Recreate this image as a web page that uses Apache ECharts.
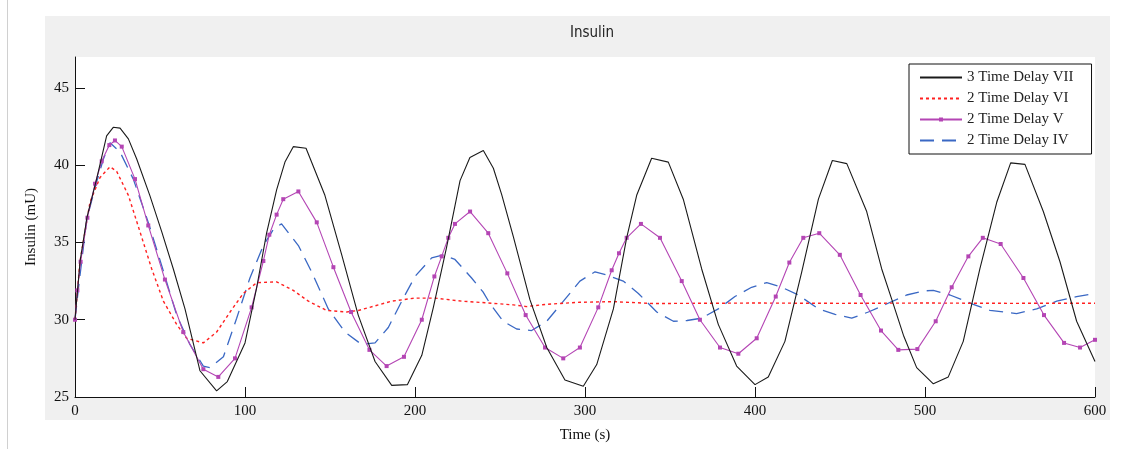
<!DOCTYPE html>
<html>
<head>
<meta charset="utf-8">
<script src="https://cdn.jsdelivr.net/npm/echarts@6/dist/echarts.min.js"></script>
<style>
  html, body { margin: 0; padding: 0; background: #fff; }
  #chart { width: 1123px; height: 449px; }
</style>
</head>
<body>
<div id="chart"></div>
<script>
// series names (legend order)
const seriesNames = ['3 Time Delay VII', '2 Time Delay VI', '2 Time Delay V', '2 Time Delay IV']

// 3 Time Delay VII (black)
const tVII = [0, 3, 7, 12.7, 18.6, 22.5, 26.5, 31.4, 36.3, 44, 51, 57.8, 64.7, 73.5, 83.3, 89.6, 100, 106.9, 112.7, 118.6,
  123.5, 128.4, 135.9, 147, 156.9, 166.6, 176.5, 186.3, 195.5, 204, 210.8, 218.6, 226.5, 232.3, 240.2, 246.1, 251, 257.8, 267.6, 277.5,
  288.2, 299, 306.9, 316.7, 324.5, 330.4, 339.2, 349, 357.8, 368.6, 378.4, 389.2, 400, 407.8, 417.6, 427.5, 437.3, 445.5, 454, 465.7,
  474.5, 480.5, 487.3, 495.1, 504.9, 513.7, 522.5, 532.3, 542.2, 550.4, 558.8, 569.6, 579.4, 589.2, 600]
const vVII = [30, 33.8, 36.6, 39.1, 41.9, 42.45, 42.4, 41.7, 40.4, 38.05, 35.7, 33.3, 30.7, 26.7, 25.4, 26.0, 28.5, 32.1, 35.6, 38.4,
  40.2, 41.2, 41.1, 38.05, 34.2, 30.3, 27.3, 25.75, 25.8, 27.7, 30.8, 34.7, 39.0, 40.5, 40.95, 39.8, 38.1, 35.4, 31.3, 28.2,
  26.1, 25.7, 27.1, 30.7, 35.3, 38.05, 40.45, 40.2, 37.8, 33.3, 29.7, 27.0, 25.8, 26.3, 28.6, 33.1, 37.8, 40.3, 40.1, 37.0,
  33.3, 31.3, 29.0, 26.9, 25.85, 26.3, 28.6, 33.3, 37.6, 40.15, 40.05, 37.0, 33.75, 29.9, 27.3]

// 2 Time Delay VI (red dotted)
const tVI = [0, 2.9, 8.8, 14.7, 20.6, 24.5, 31.4, 38.2, 45.1, 52, 59.8, 65.7, 75.5, 83.3, 91.2, 99, 106.9, 118.6, 128.4, 137.3,
  148, 159.8, 166.7, 176.5, 186.3, 200, 211.8, 227.5, 241.2, 257.8, 265.5, 277.5, 297, 316.7, 340, 361.8, 400, 450, 500, 550, 600]
const vVI = [30, 33.75, 37.6, 39.2, 39.9, 39.6, 38.05, 35.7, 33.3, 31.2, 29.7, 28.8, 28.5, 29.2, 30.5, 31.7, 32.4, 32.45, 31.9, 31.2,
  30.6, 30.5, 30.6, 30.9, 31.2, 31.4, 31.4, 31.2, 31.1, 30.96, 30.85, 31.0, 31.13, 31.17, 31.05, 31.06, 31.08, 31.06, 31.08, 31.06, 31.07]

// 2 Time Delay V (magenta with markers)
const tV = [0, 1.4, 3.3, 7.3, 11.8, 15.7, 20.2, 23.5, 27.5, 35.3, 43.1, 52.9, 63.7, 75.5, 84.3, 94.1, 103.9, 110.8, 114.3, 118.6,
  122.5, 131.4, 142.2, 152, 162.4, 173.2, 183.3, 193.5, 204, 211.4, 215.7, 219.6, 223.5, 232.4, 243.1, 254.3, 265.1, 276.5, 287.2, 297,
  307.8, 315.7, 320, 324.5, 332.9, 344.1, 356.9, 367.6, 379.4, 390.2, 401, 412.2, 420.2, 428.4, 437.8, 449.9, 462.1, 474.1, 484.3, 495.5,
  506.3, 515.7, 525.5, 534, 544.5, 557.9, 570, 581.8, 591.2, 600]
const vV = [30, 31.9, 33.75, 36.6, 38.8, 40.25, 41.3, 41.6, 41.2, 39.1, 36.1, 32.6, 29.2, 26.8, 26.3, 27.5, 30.8, 33.8, 35.5, 36.8,
  37.8, 38.3, 36.3, 33.4, 30.5, 28.05, 27.0, 27.6, 30.0, 32.8, 34.1, 35.3, 36.2, 37.0, 35.6, 33.0, 30.3, 28.2, 27.5, 28.2,
  30.8, 33.2, 34.3, 35.3, 36.2, 35.3, 32.5, 30.0, 28.2, 27.8, 28.8, 31.5, 33.7, 35.3, 35.6, 34.2, 31.6, 29.3, 28.05, 28.1,
  29.9, 32.1, 34.1, 35.3, 34.9, 32.7, 30.3, 28.5, 28.2, 28.7]

// 2 Time Delay IV (blue dashed)
const tIV = [0, 2, 6.9, 12.7, 16.7, 20.6, 26.5, 34.3, 43.1, 51, 59.8, 67.6, 75.5, 79.4, 87.3, 95.1, 102.9, 110.8, 117, 121.5,
  131.4, 139.2, 149, 158.8, 168.6, 176.5, 184.3, 192.2, 200, 209.8, 216.7, 223.5, 233.3, 240, 244, 251.9, 259.8, 268.6, 277.5, 287.3,
  297, 305.9, 312.7, 322.5, 331.4, 342.2, 352, 360, 368.6, 378.4, 388.2, 398, 406.9, 415.7, 425.5, 437.3, 447.1, 456.9, 466.7, 477,
  489.2, 499, 504.9, 514.7, 528.4, 538.2, 553.9, 565.7, 577.5, 589.2, 600]
const vIV = [30, 32, 36.5, 38.9, 40.4, 41.45, 40.85, 39.1, 36.3, 33.5, 30.3, 28.4, 27.0, 26.9, 27.6, 30.1, 32.7, 34.8, 35.9, 36.2,
  34.8, 33.1, 30.7, 29.2, 28.4, 28.5, 29.5, 31.2, 32.8, 34.0, 34.2, 33.9, 32.7, 31.8, 31.06, 29.9, 29.4, 29.3, 29.9, 31.2,
  32.5, 33.1, 32.9, 32.5, 31.7, 30.5, 29.9, 29.95, 30.1, 30.7, 31.5, 32.1, 32.4, 32.1, 31.6, 30.7, 30.35, 30.1, 30.5, 31.0,
  31.6, 31.86, 31.9, 31.6, 31.0, 30.6, 30.4, 30.7, 31.2, 31.5, 31.7]

// axis ticks
const xTicks = [0, 100, 200, 300, 400, 500, 600]
const yTicks = [25, 30, 35, 40, 45]

const zip = (ts, vs) => ts.map((t, i) => [t, vs[i]])
const serif = "'Liberation Serif', 'DejaVu Serif', serif"

const chart = echarts.init(document.getElementById('chart'))
chart.setOption({
  backgroundColor: '#fff',
  animation: false,
  graphic: [
    // thin page border on the left
    { type: 'line', shape: { x1: 7.5, y1: 0, x2: 7.5, y2: 449 }, style: { stroke: '#d0d0d0', lineWidth: 1 }, z: -2 },
    // grey figure panel
    { type: 'rect', left: 45, top: 16, shape: { width: 1065, height: 404 }, style: { fill: '#f0f0f0' }, z: -1 }
  ],
  title: {
    text: 'Insulin',
    left: 587,
    top: 21,
    textAlign: 'center',
    textStyle: { fontFamily: "'DejaVu Sans Condensed', 'Liberation Sans Narrow', sans-serif", fontSize: 15, fontWeight: 'normal', color: '#222' }
  },
  grid: {
    left: 75, right: 28, top: 57, bottom: 52,
    show: true, backgroundColor: '#fff', borderWidth: 0
  },
  legend: {
    orient: 'vertical',
    left: 909,
    top: 64,
    backgroundColor: '#fff',
    borderColor: '#111',
    borderWidth: 1,
    borderRadius: 0,
    padding: [6, 18, 6, 10],
    itemWidth: 42,
    itemHeight: 5,
    itemGap: 6,
    textStyle: { fontFamily: serif, fontSize: 15, color: '#222' },
    data: [
      { name: seriesNames[0], itemStyle: { opacity: 0 } },
      { name: seriesNames[1], itemStyle: { opacity: 0 } },
      { name: seriesNames[2] },
      { name: seriesNames[3], itemStyle: { opacity: 0 } }
    ]
  },
  xAxis: {
    type: 'value',
    min: 0, max: 600, interval: 100,
    name: 'Time (s)',
    nameLocation: 'middle',
    nameGap: 31,
    nameTextStyle: { fontFamily: serif, fontSize: 15, color: '#111' },
    axisLine: { lineStyle: { color: '#111', width: 1 } },
    axisTick: { inside: true, length: 10, lineStyle: { color: '#111' }, customValues: xTicks },
    axisLabel: { fontFamily: serif, fontSize: 15, color: '#111', margin: 7, customValues: xTicks },
    splitLine: { show: false }
  },
  yAxis: {
    type: 'value',
    min: 25, max: 47, interval: 5,
    name: 'Insulin (mU)',
    nameLocation: 'middle',
    nameGap: 36,
    nameTextStyle: { fontFamily: serif, fontSize: 15, color: '#111' },
    axisLine: { show: true, lineStyle: { color: '#111', width: 1 } },
    axisTick: { show: true, inside: true, length: 10, lineStyle: { color: '#111' }, customValues: yTicks },
    axisLabel: { fontFamily: serif, fontSize: 15, color: '#111', margin: 6, customValues: yTicks },
    splitLine: { show: false }
  },
  series: [
    {
      name: seriesNames[0], type: 'line', data: zip(tVII, vVII),
      symbol: 'none', lineStyle: { color: '#1a1a1a', width: 1.1 }, itemStyle: { color: '#1a1a1a' }, z: 5
    },
    {
      name: seriesNames[1], type: 'line', data: zip(tVI, vVI),
      symbol: 'none', lineStyle: { color: '#ff2020', width: 1.4, type: [3, 3] }, itemStyle: { color: '#ff2020' }, z: 3
    },
    {
      name: seriesNames[2], type: 'line', data: zip(tV, vV),
      symbol: 'rect', symbolSize: 4, showSymbol: true,
      lineStyle: { color: '#b445b4', width: 1.1 }, itemStyle: { color: '#b445b4' }, z: 4
    },
    {
      name: seriesNames[3], type: 'line', data: zip(tIV, vIV),
      symbol: 'none', lineStyle: { color: '#3a68c4', width: 1.3, type: [14, 8] }, itemStyle: { color: '#3a68c4' }, z: 2
    }
  ]
})
</script>
</body>
</html>
